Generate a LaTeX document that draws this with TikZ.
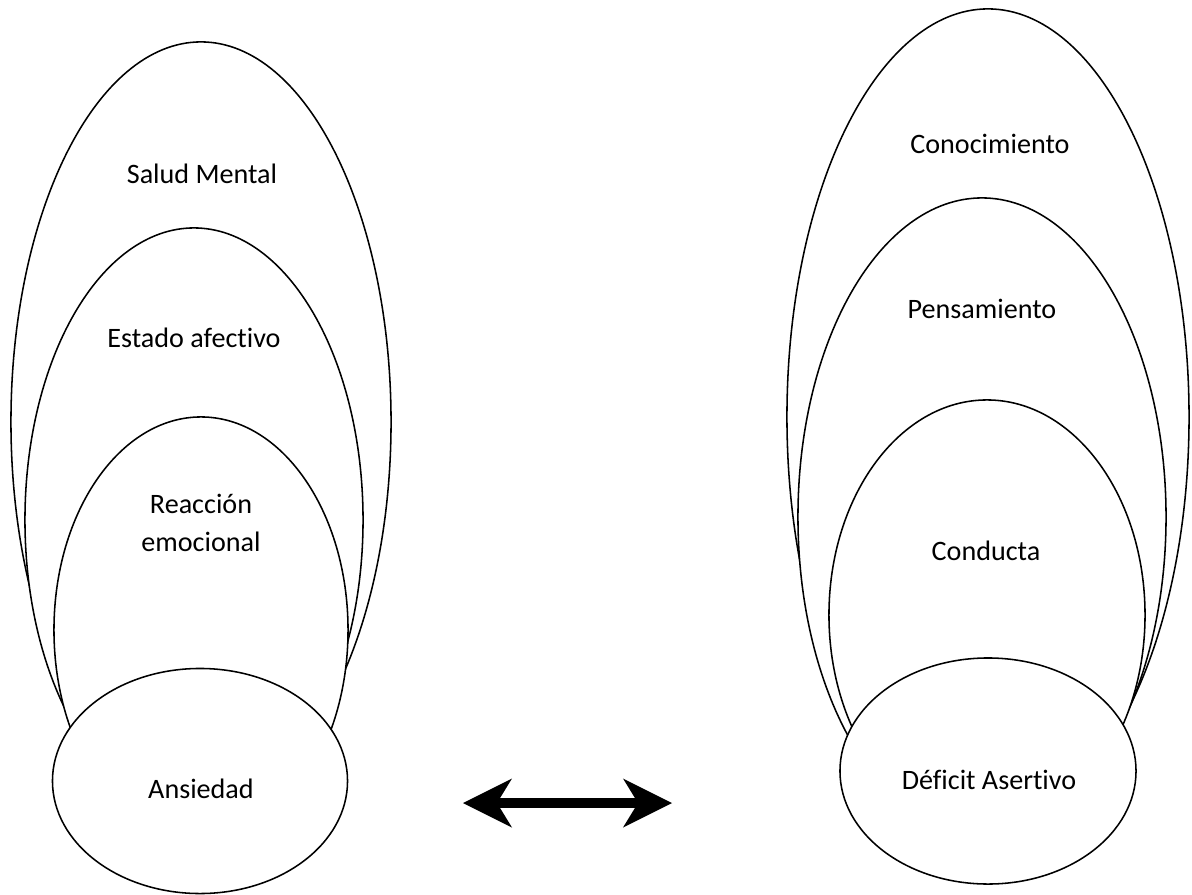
\documentclass[tikz,border=0pt]{standalone}
\usepackage{fontspec}
\setmainfont{Carlito}[Ligatures=NoCommon]
\usetikzlibrary{shapes.geometric,arrows.meta}
\begin{document}
\begin{tikzpicture}[x=0.025cm,y=-0.025cm,
    bubble/.style={ellipse,draw,fill=white,line width=1.1pt,inner sep=0pt,outer sep=0pt},
    lbl/.style={anchor=base,font=\fontsize{20}{27}\selectfont}]
            \useasboundingbox (0,0) rectangle (1192,895);
            %draw the left group, biggest first
            \node[bubble,minimum width=9.5cm,minimum height=19cm] (salud) at (201,422) {};
            \node[bubble,minimum width=8.45cm,minimum height=14.6cm] (estado) at (194,520) {};
            \node[bubble,minimum width=7.35cm,minimum height=10.65cm] (reaccion) at (201,630) {};
            \node[bubble,minimum width=7.375cm,minimum height=5.625cm] (ansiedad) at (200,781) {};
            \node[lbl] (saludtxt) at (202,183) {Salud Mental};
            \node[lbl] (estadotxt) at (194,347) {Estado afectivo};
            \node[anchor=center,align=center,font=\fontsize{20}{27}\selectfont] (reacciontxt) at (201,523) {Reacción\\emocional};
            \node[lbl] (ansiedadtxt) at (201,798) {Ansiedad};
            %draw the right group
            \node[bubble,minimum width=10.05cm,minimum height=20.4cm] (conoc) at (988,417) {};
            \node[bubble,minimum width=9.2cm,minimum height=15.95cm] (pensam) at (982,517) {};
            \node[bubble,minimum width=7.9cm,minimum height=10.75cm] (conducta) at (987,615) {};
            \node[bubble,minimum width=7.4cm,minimum height=5.65cm] (deficit) at (988,771) {};
            \node[lbl] (conoctxt) at (990,153) {Conocimiento};
            \node[lbl] (pensamtxt) at (982,318) {Pensamiento};
            \node[lbl] (conductatxt) at (986,560) {Conducta};
            \node[lbl] (deficittxt) at (989,789) {Déficit Asertivo};
            %double arrow between the groups
            \coordinate (lefttip) at (463,803);
            \coordinate (righttip) at (672,803);
            \draw[line width=7.5pt,{Stealth[length=1.225cm,width=1.225cm,inset=0.375cm,line width=0pt]}-{Stealth[length=1.225cm,width=1.225cm,inset=0.375cm,line width=0pt]}] (lefttip) -- (righttip);
\end{tikzpicture}
\end{document}
